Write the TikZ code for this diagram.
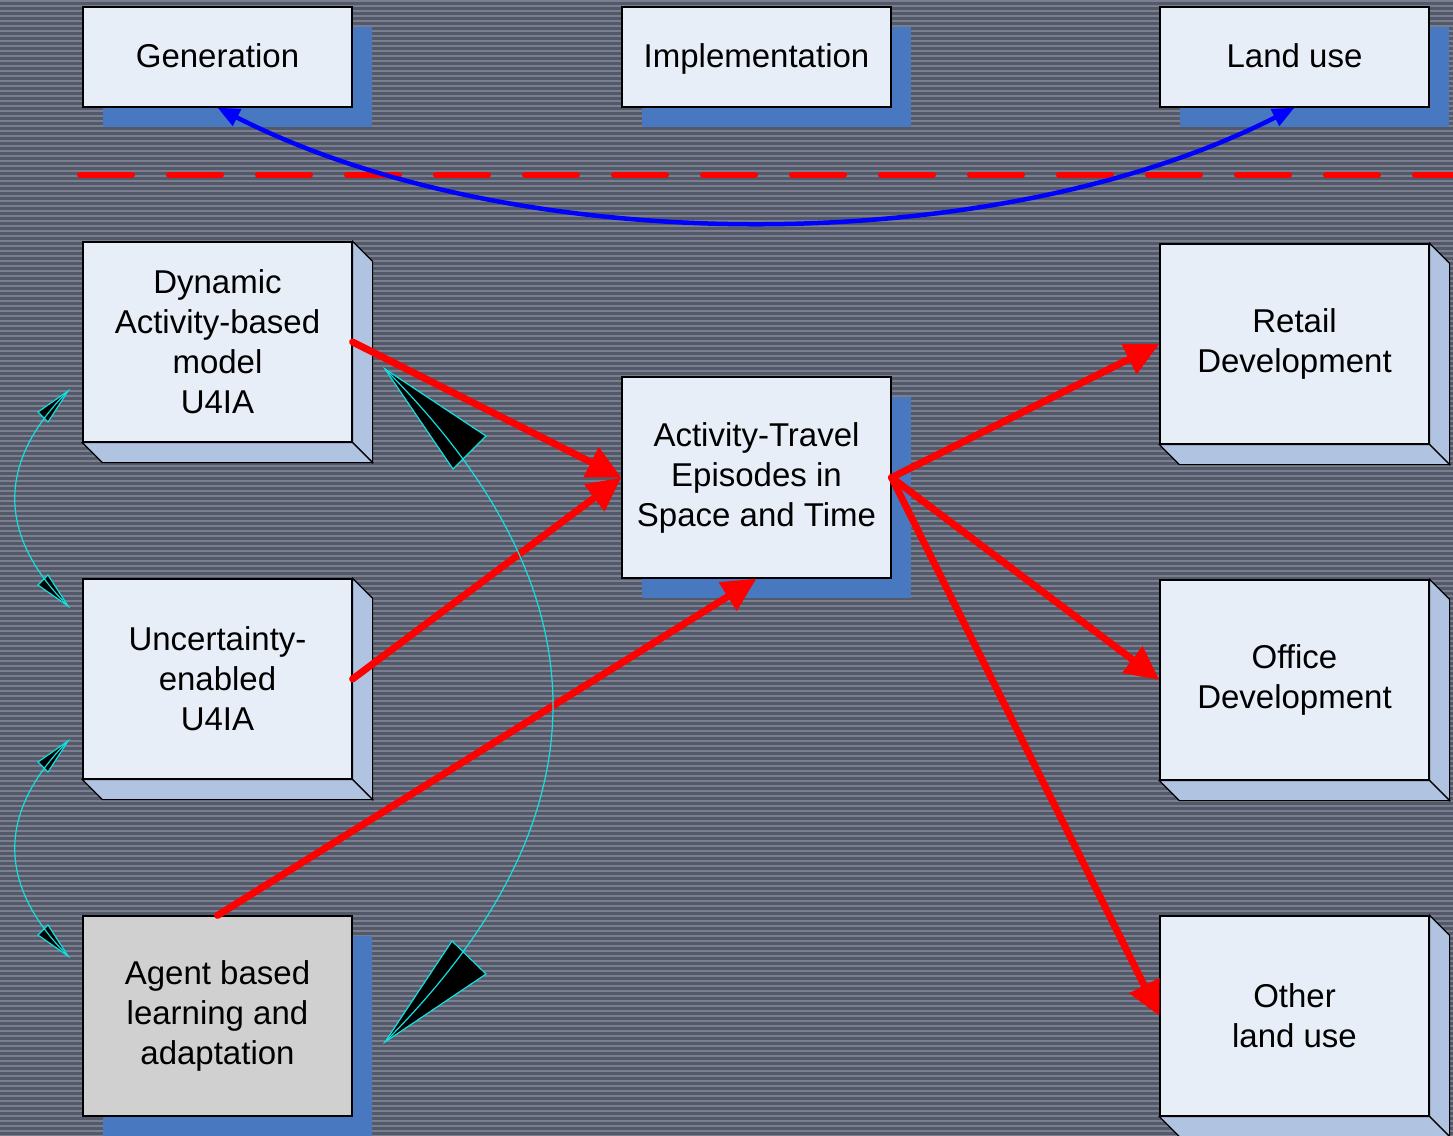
\documentclass[tikz,border=0pt]{standalone}
\usepackage{fontspec}
\setmainfont{Liberation Sans}
\usetikzlibrary{arrows.meta,shadows}
\definecolor{bgdark}{HTML}{545969}
\definecolor{bglight}{HTML}{7A7F8F}
\definecolor{boxfill}{HTML}{E8EEF8}
\definecolor{bevelc}{HTML}{B0C4E2}
\definecolor{shadowblue}{HTML}{4878C0}
\definecolor{agentgray}{HTML}{D0D0D0}
\definecolor{cyanline}{HTML}{10E0E0}
\tikzset{
  box/.style={draw=black, line width=1.2pt, fill=boxfill, minimum width=269pt, inner sep=0pt, align=center, font=\fontsize{33}{40}\selectfont},
  smallbox/.style={box, minimum height=100pt, text height=24pt, text depth=4pt},
  bigbox/.style={box, minimum height=200pt},
  blueshadow/.style={drop shadow={shadow xshift=20pt, shadow yshift=-20pt, fill=shadowblue, opacity=1}},
  bevelface/.style={fill=bevelc, draw=black, line width=1.2pt, line join=miter},
  redarr/.style={draw=red, line width=7pt, line cap=round, -{Triangle[length=34pt,width=32pt]}},
  bluearr/.style={draw=blue, line width=4.5pt, line cap=round, {Triangle[length=22pt,width=18pt]}-{Triangle[length=22pt,width=18pt]}},
  reddash/.style={draw=red, line width=6pt, line cap=round, dash pattern=on 52pt off 37pt},
  cyanthin/.style={draw=cyanline, line width=1.2pt},
  cyanhead/.style={fill=black, draw=cyanline, line width=1.2pt, line join=miter}
}
\newcommand\bevelof[1]{%
  \filldraw[bevelface] (#1.north east) -- ([shift={(20,20)}]#1.north east) -- ([shift={(20,20)}]#1.south east) -- (#1.south east) -- cycle;
  \filldraw[bevelface] (#1.south west) -- (#1.south east) -- ([shift={(20,20)}]#1.south east) -- ([shift={(20,20)}]#1.south west) -- cycle;
}
\begin{document}
\begin{tikzpicture}[x=1pt, y=-1pt]
  \useasboundingbox (0,0) rectangle (1453,1135);
  \begin{scope}
  \clip (0,0) rectangle (1453,1135);
  \fill[bgdark] (0,0) rectangle (1453,1135);
  \foreach \i in {0,...,227} { \fill[bglight] (0,\i*5) rectangle (1453,\i*5+2.2); }

  % top row
  \node[smallbox, blueshadow] (gen) at (217.5,57) {Generation};
  \node[smallbox, blueshadow] (impl) at (756.5,57) {Implementation};
  \node[smallbox, blueshadow] (land) at (1294.5,57) {Land use};

  % left column
  \node[bigbox] (dyn) at (217.5,342) {Dynamic\\Activity-based\\model\\U4IA};
  \bevelof{dyn}
  \node[bigbox] (unc) at (217.5,679) {Uncertainty-\\enabled\\U4IA};
  \bevelof{unc}
  \node[bigbox, blueshadow, fill=agentgray] (agent) at (217.5,1016) {Agent based\\learning and\\adaptation};

  % centre
  \node[box, minimum height=201pt, blueshadow] (act) at (756.5,477.5) {Activity-Travel\\Episodes in\\Space and Time};

  % right column
  \node[bigbox] (retail) at (1294.5,344) {Retail\\Development};
  \bevelof{retail}
  \node[bigbox] (office) at (1294.5,680) {Office\\Development};
  \bevelof{office}
  \node[bigbox] (other) at (1294.5,1016) {Other\\land use};
  \bevelof{other}

  % dashed separator
  \coordinate (dashL) at (80,175);
  \coordinate (dashR) at (1460,175);
  \draw[reddash] (dashL) -- (dashR);

  % blue connector
  \draw[bluearr] (gen.south) .. controls (517,260) and (995,260) .. (land.south);

  % red arrows
  \draw[redarr] (dyn.east) -- (act.west);
  \draw[redarr] (unc.east) -- (act.west);
  \draw[redarr] (agent.north) -- (act.south);
  \draw[redarr] (act.east) -- (retail.west);
  \draw[redarr] (act.east) -- (office.west);
  \draw[redarr] (act.east) -- (other.west);

  % cyan curved arrows: heads
  \coordinate (s1a) at (68,391);
  \coordinate (s1b) at (68,606);
  \coordinate (s2a) at (68,741);
  \coordinate (s2b) at (68,956);
  \coordinate (b1a) at (385,369);
  \coordinate (b1b) at (385,1042);
  \filldraw[cyanhead] (s1a) -- (38,412) -- (48,422) -- cycle;
  \filldraw[cyanhead] (s1b) -- (38,585) -- (48,575) -- cycle;
  \filldraw[cyanhead] (s2a) -- (38,762) -- (48,772) -- cycle;
  \filldraw[cyanhead] (s2b) -- (38,935) -- (48,925) -- cycle;
  \filldraw[cyanhead] (b1a) -- (486,436) -- (453,469) -- cycle;
  \filldraw[cyanhead] (b1b) -- (452,941) -- (486,974) -- cycle;
  % cyan curves
  \draw[cyanthin] (s1a) .. controls (-3,462) and (-3,535) .. (s1b);
  \draw[cyanthin] (s2a) .. controls (-3,812) and (-3,885) .. (s2b);
  \draw[cyanthin] (b1a) .. controls (609,593) and (609,818) .. (b1b);
  \end{scope}
\end{tikzpicture}
\end{document}
